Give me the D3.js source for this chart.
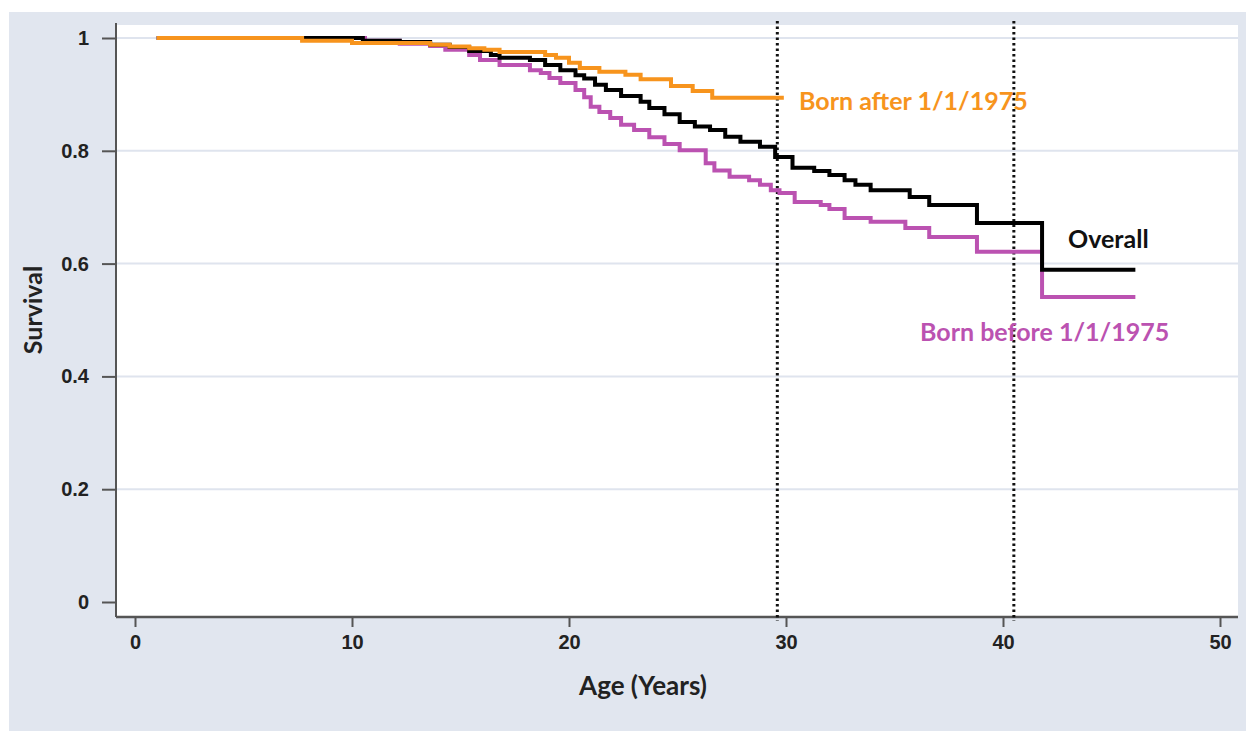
<!DOCTYPE html>
<html>
<head>
<meta charset="utf-8">
<script src="https://cdn.jsdelivr.net/npm/d3@7"></script>
<style>
  body { margin: 0; background: #fff; }
  svg { display: block; font-family: Lato, "Open Sans", sans-serif; }
</style>
</head>
<body>
<svg id="chart"></svg>
<script>
// Kaplan-Meier step data (age in years, survival)
const overallAge  = [1, 10.5, 12.2, 13.6, 14.5, 15.4, 16.4, 16.8, 18.2, 18.9, 19.6, 20.3, 20.7, 21.2, 21.7, 22.4, 23.3, 23.7, 24.4, 25.1, 25.8, 26.5, 27.2, 27.9, 28.8, 29.5, 30.3, 31.3, 32.0, 32.7, 33.2, 33.9, 35.7, 36.6, 38.8, 41.8, 46.1];
const overallSurv = [1, 0.995, 0.993, 0.988, 0.984, 0.977, 0.970, 0.965, 0.961, 0.952, 0.943, 0.934, 0.928, 0.917, 0.908, 0.897, 0.887, 0.876, 0.865, 0.851, 0.843, 0.837, 0.825, 0.816, 0.807, 0.789, 0.770, 0.764, 0.757, 0.748, 0.740, 0.730, 0.718, 0.704, 0.672, 0.589, 0.589];

const beforeAge  = [1, 10.6, 12.2, 13.6, 14.3, 15.4, 15.9, 16.8, 18.2, 18.7, 19.1, 19.6, 20.3, 20.7, 21.0, 21.4, 21.9, 22.4, 23.0, 23.7, 24.4, 25.1, 26.3, 26.7, 27.4, 28.3, 28.8, 29.3, 29.7, 30.4, 31.6, 32.0, 32.7, 33.9, 35.5, 36.6, 38.8, 41.8, 46.1];
const beforeSurv = [1, 0.995, 0.990, 0.986, 0.979, 0.970, 0.961, 0.952, 0.943, 0.938, 0.929, 0.920, 0.908, 0.895, 0.878, 0.869, 0.858, 0.846, 0.837, 0.824, 0.812, 0.801, 0.778, 0.765, 0.754, 0.748, 0.740, 0.730, 0.725, 0.709, 0.704, 0.697, 0.681, 0.674, 0.663, 0.647, 0.621, 0.541, 0.541];

const afterAge  = [1, 7.7, 10.0, 13.6, 14.5, 15.4, 16.1, 16.8, 18.9, 19.4, 20.0, 20.5, 21.4, 22.6, 23.3, 24.7, 25.7, 26.6, 29.9];
const afterSurv = [1, 0.995, 0.991, 0.988, 0.985, 0.982, 0.979, 0.975, 0.970, 0.965, 0.956, 0.947, 0.940, 0.935, 0.927, 0.915, 0.906, 0.894, 0.894];

const xTicks = [0, 10, 20, 30, 40, 50];
const yTicks = [0, 0.2, 0.4, 0.6, 0.8, 1];
const refAges = [29.6, 40.5];   // dotted reference lines

const W = 1246, H = 731;
const plotL = 116, plotR = 1238, plotT = 25, plotB = 617;

const svg = d3.select("#chart").attr("width", W).attr("height", H);

// grey panel + white plot area
svg.append("rect").attr("x", 9).attr("y", 12).attr("width", W - 9).attr("height", H - 12).attr("fill", "#e1e6ef");
svg.append("rect").attr("x", plotL).attr("y", plotT).attr("width", plotR - plotL).attr("height", plotB - plotT).attr("fill", "#fff");

const x = d3.scaleLinear().domain([0, 50]).range([135, 1220]);
const y = d3.scaleLinear().domain([0, 1]).range([602, 38]);

// gridlines
svg.append("g").selectAll("line")
  .data(yTicks.filter(d => d > 0))
  .join("line")
  .attr("x1", plotL).attr("x2", plotR)
  .attr("y1", d => y(d)).attr("y2", d => y(d))
  .attr("stroke", "#dfe4ee").attr("stroke-width", 2);

// axes
const yAxis = svg.append("g")
  .attr("transform", "translate(" + plotL + ",0)")
  .call(d3.axisLeft(y).tickValues(yTicks).tickFormat(d3.format("")).tickSize(14).tickPadding(13));
const xAxis = svg.append("g")
  .attr("transform", "translate(0," + plotB + ")")
  .call(d3.axisBottom(x).tickValues(xTicks).tickSize(10).tickPadding(8));

[yAxis, xAxis].forEach(a => {
  a.select(".domain").remove();
  a.selectAll(".tick line").attr("stroke", "#555").attr("stroke-width", 2);
  a.selectAll(".tick text").attr("fill", "#222").style("font-size", "20px").style("font-weight", "bold");
});

// axis lines
svg.append("line").attr("x1", plotL).attr("x2", plotL).attr("y1", plotT - 2).attr("y2", plotB)
  .attr("stroke", "#555").attr("stroke-width", 2);
svg.append("line").attr("x1", plotL).attr("x2", plotR).attr("y1", plotB).attr("y2", plotB)
  .attr("stroke", "#555").attr("stroke-width", 2.5);

// axis titles
svg.append("text")
  .attr("transform", "translate(42," + 310 + ")rotate(-90)")
  .attr("text-anchor", "middle")
  .style("font-size", "25px").style("font-weight", "bold").attr("fill", "#222")
  .text("Survival");
svg.append("text")
  .attr("x", 643).attr("y", 695)
  .attr("text-anchor", "middle")
  .style("font-size", "26px").style("font-weight", "bold").attr("fill", "#222")
  .text("Age (Years)");

// dotted reference lines
svg.append("g").selectAll("line")
  .data(refAges)
  .join("line")
  .attr("x1", d => x(d)).attr("x2", d => x(d))
  .attr("y1", 21).attr("y2", 621)
  .attr("stroke", "#111").attr("stroke-width", 3)
  .attr("stroke-dasharray", "2.5,3");

// survival curves
const line = d3.line()
  .x(d => x(d[0]))
  .y(d => y(d[1]))
  .curve(d3.curveStepAfter);

const series = [
  { name: "after",   ages: afterAge,   surv: afterSurv,   color: "#f7941d" },
  { name: "before",  ages: beforeAge,  surv: beforeSurv,  color: "#bb52b1" },
  { name: "overall", ages: overallAge, surv: overallSurv, color: "#000" }
];

// draw before, overall, then after on top at the start like the original
[series[1], series[2], series[0]].forEach(s => {
  svg.append("path")
    .datum(d3.zip(s.ages, s.surv))
    .attr("fill", "none")
    .attr("stroke", s.color)
    .attr("stroke-width", 4)
    .attr("d", line);
});

// curve labels
svg.append("text").attr("x", 799).attr("y", 110)
  .style("font-size", "25px").style("font-weight", "bold").attr("fill", "#f7941d")
  .text("Born after 1/1/1975");
svg.append("text").attr("x", 1068).attr("y", 248)
  .style("font-size", "25px").style("font-weight", "bold").attr("fill", "#111")
  .text("Overall");
svg.append("text").attr("x", 920).attr("y", 341)
  .style("font-size", "25px").style("font-weight", "bold").attr("fill", "#bb52b1")
  .text("Born before 1/1/1975");
</script>
</body>
</html>
